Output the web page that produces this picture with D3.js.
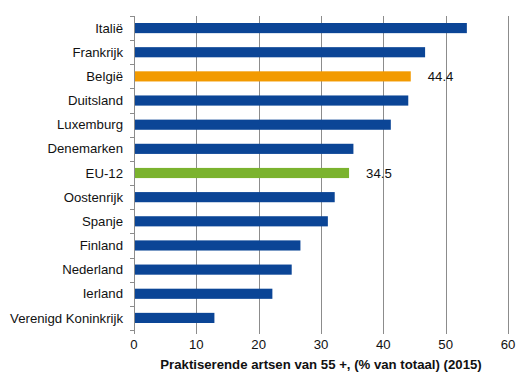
<!DOCTYPE html>
<html>
<head>
<meta charset="utf-8">
<title>Praktiserende artsen van 55+</title>
<script src="https://d3js.org/d3.v7.min.js"></script>
<style>
  body { margin: 0; background: #fff; }
  svg text { font-family: "Liberation Sans", Arial, sans-serif; fill: #111; }
  .grid line { stroke: #8c8c8c; stroke-width: 1; }
  .domain { stroke: #8c8c8c; }
</style>
</head>
<body>
<div id="viz"></div>
<script>
// data
var countries = ["Italië", "Frankrijk", "België", "Duitsland", "Luxemburg", "Denemarken", "EU-12",
                 "Oostenrijk", "Spanje", "Finland", "Nederland", "Ierland", "Verenigd Koninkrijk"];
var values = [53.4, 46.7, 44.4, 44.0, 41.2, 35.2, 34.5, 32.2, 31.1, 26.7, 25.3, 22.2, 12.9];
var highlight = { "België": "#f29a00", "EU-12": "#7bb32e" };
var labelled = ["België", "EU-12"];
var xTicks = [0, 10, 20, 30, 40, 50, 60];
var axisTitle = "Praktiserende artsen van 55 +, (% van totaal) (2015)";

var W = 531, H = 388;
var margin = {top: 16, right: 23, bottom: 58, left: 134};
var width = W - margin.left - margin.right;
var height = H - margin.top - margin.bottom;
var fs = "13.2px";

var svg = d3.select("#viz").append("svg")
    .attr("width", W)
    .attr("height", H);
var g = svg.append("g")
    .attr("transform", "translate(" + margin.left + "," + margin.top + ")");

var x = d3.scaleLinear().domain([0, 60]).range([0, width]);
var y = d3.scaleBand().domain(countries).range([0, height]).paddingInner(0.58).paddingOuter(0.29);
var band = d3.scaleBand().domain(countries).range([0, height]);

// vertical gridlines
g.append("g").attr("class", "grid")
  .selectAll("line").data(xTicks.slice(1)).enter().append("line")
    .attr("x1", function(d) { return Math.round(x(d)) + 0.5; })
    .attr("x2", function(d) { return Math.round(x(d)) + 0.5; })
    .attr("y1", 0).attr("y2", height);

// bars
g.selectAll(".bar").data(countries).enter().append("rect")
    .attr("class", "bar")
    .attr("x", x(0) + 1)
    .attr("y", function(d) { return y(d); })
    .attr("width", function(d, i) { return x(values[i]) - x(0) - 1; })
    .attr("height", y.bandwidth())
    .attr("fill", function(d) { return highlight[d] || "#0b4596"; });

// value labels for highlighted bars
g.selectAll(".val").data(labelled).enter().append("text")
    .attr("x", function(d) { return x(values[countries.indexOf(d)]) + 17; })
    .attr("y", function(d) { return y(d) + y.bandwidth() / 2; })
    .attr("dy", "0.35em")
    .style("font-size", fs)
    .text(function(d) { return values[countries.indexOf(d)].toFixed(1); });

// left axis: line + ticks between categories
var left = g.append("g");
left.append("line").attr("class", "domain")
    .attr("x1", 0.5).attr("x2", 0.5).attr("y1", 0).attr("y2", height);
left.selectAll(".tk").data(d3.range(countries.length + 1)).enter().append("line")
    .attr("stroke", "#8c8c8c")
    .attr("x1", -4).attr("x2", 0)
    .attr("y1", function(i) { return Math.round(i * band.step()) + 0.5; })
    .attr("y2", function(i) { return Math.round(i * band.step()) + 0.5; });
left.selectAll(".cat").data(countries).enter().append("text")
    .attr("x", -11)
    .attr("y", function(d) { return band(d) + band.bandwidth() / 2; })
    .attr("dy", "0.35em")
    .attr("text-anchor", "end")
    .style("font-size", fs)
    .text(function(d) { return d; });

// bottom tick labels
var bottom = g.append("g").attr("transform", "translate(0," + height + ")");
bottom.selectAll(".tk").data(xTicks).enter().append("line")
    .attr("stroke", "#8c8c8c")
    .attr("x1", function(d) { return Math.round(x(d)) + 0.5; })
    .attr("x2", function(d) { return Math.round(x(d)) + 0.5; })
    .attr("y1", 0).attr("y2", 4);
bottom.selectAll(".lbl").data(xTicks).enter().append("text")
    .attr("x", function(d) { return x(d); })
    .attr("y", 19)
    .attr("text-anchor", "middle")
    .style("font-size", fs)
    .text(function(d) { return d; });

// axis title
g.append("text")
    .attr("x", width / 2)
    .attr("y", height + 39)
    .attr("text-anchor", "middle")
    .style("font-size", fs)
    .style("font-weight", "bold")
    .text(axisTitle);
</script>
</body>
</html>
